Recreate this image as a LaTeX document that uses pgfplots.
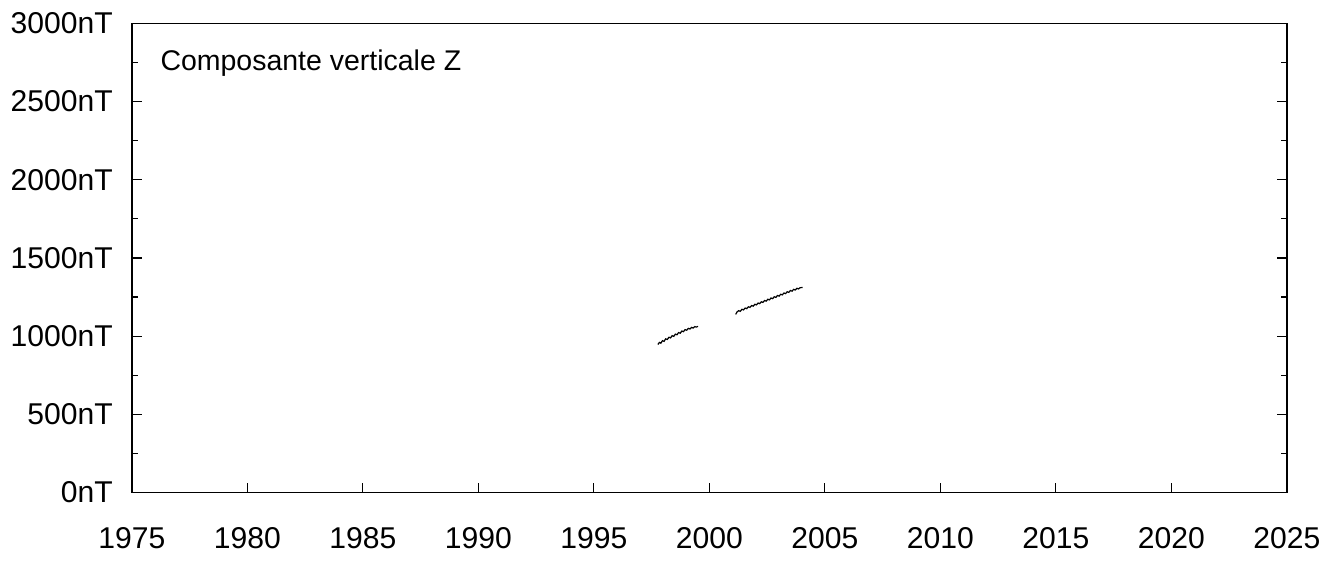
\documentclass[border={2pt 4pt 3pt 3pt}]{standalone}
\usepackage{fontspec}
\setmainfont{Liberation Sans}
\usepackage{pgfplots}
\pgfplotsset{compat=1.18}

\begin{document}
\begin{tikzpicture}
\begin{axis}[
    scale only axis,
    width=576pt, height=234pt,
    xmin=1975, xmax=2025,
    ymin=0, ymax=3000,
    xtick={1975,1980,...,2025},
    ytick={0,500,...,3000},
    minor y tick num=1,
    xtick pos=bottom,
    ytick pos=both,
    tick align=inside,
    major tick length=5pt,
    minor tick length=3pt,
    axis line style={line width=0.8pt},
    tick style={line width=0.6pt, black},
    /pgf/number format/assume math mode=true,
    /pgf/number format/1000 sep={},
    yticklabel={\pgfmathprintnumber{\tick}nT},
    tick label style={font=\fontsize{15}{18}\selectfont},
    xticklabel style={yshift=-14pt},
    yticklabel style={xshift=-6pt},
]
\addplot[black, line width=0.6pt] coordinates {
(1997.77,947)(1997.84,960)(1997.90,955)(1997.97,971)(1998.04,967)
(1998.11,983)(1998.18,979)(1998.25,993)(1998.32,989)(1998.39,1003)
(1998.46,999)(1998.53,1013)(1998.60,1009)(1998.67,1023)(1998.74,1019)
(1998.81,1033)(1998.88,1029)(1998.95,1042)(1999.02,1038)(1999.09,1050)
(1999.16,1046)(1999.23,1056)(1999.30,1052)(1999.37,1061)(1999.44,1058)(1999.51,1063)
};
\addplot[black, line width=0.6pt] coordinates {
(2001.14,1139)(2001.20,1155)(2001.27,1163)(2001.34,1159)(2001.41,1172)
(2001.48,1168)(2001.55,1180)(2001.62,1176)(2001.69,1188)(2001.76,1184)
(2001.83,1196)(2001.90,1192)(2001.97,1204)(2002.04,1200)(2002.11,1212)
(2002.18,1208)(2002.25,1220)(2002.32,1216)(2002.39,1228)(2002.46,1224)
(2002.53,1236)(2002.60,1232)(2002.67,1244)(2002.74,1240)(2002.81,1252)
(2002.88,1248)(2002.95,1260)(2003.02,1256)(2003.09,1268)(2003.16,1264)
(2003.23,1276)(2003.30,1272)(2003.37,1284)(2003.44,1280)(2003.51,1292)
(2003.58,1288)(2003.65,1299)(2003.72,1295)(2003.79,1306)(2003.86,1302)
(2003.93,1310)(2004.04,1311)
};
\node[anchor=west, inner sep=0pt, font=\fontsize{14.2}{17}\selectfont] at (rel axis cs:0.0245,0.9145) {Composante verticale Z};
\end{axis}
\end{tikzpicture}
\end{document}
